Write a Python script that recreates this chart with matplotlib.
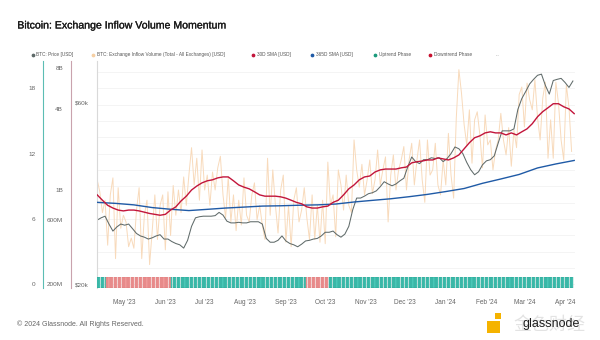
import numpy as np
import pandas as pd
import matplotlib
matplotlib.use('Agg')
import matplotlib.pyplot as plt
import matplotlib.dates as mdates
import matplotlib.patheffects as pe
from matplotlib.ticker import FixedLocator, MultipleLocator, NullLocator, FixedFormatter
from matplotlib.patches import Rectangle
from matplotlib.lines import Line2D

plt.rcParams['font.family'] = ['Liberation Sans', 'DejaVu Sans']

# ---- data ----
start = '2023-04-10'

# BTC price [k USD], every 3 days
price_k = [29.5, 29.9, 30.2, 28.8, 27.6, 28.3, 28.8, 28.6, 28.8, 28.0,
           27.2, 26.8, 26.6, 26.3, 26.5, 26.8, 27.0, 26.3, 26.3, 25.9,
           25.6, 25.4, 24.9, 26.1, 28.4, 29.9, 30.1, 30.2, 30.2, 30.2,
           30.3, 30.9, 30.4, 29.3, 29.0, 29.0, 29.1, 29.0, 29.0, 29.2,
           29.2, 29.2, 28.8, 26.4, 25.8, 25.8, 26.1, 26.8, 26.0, 25.6,
           25.4, 25.1, 25.5, 26.0, 26.1, 26.3, 26.4, 26.8, 27.4, 27.4,
           27.6, 27.0, 26.6, 27.1, 28.4, 31.4, 33.7, 33.7, 34.1, 34.6,
           34.8, 35.2, 36.1, 37.2, 36.7, 36.3, 36.7, 37.4, 38.0, 40.7,
           43.2, 42.0, 41.5, 42.5, 42.5, 43.0, 42.8, 43.0, 42.0, 42.8,
           44.1, 45.9, 45.4, 44.1, 41.8, 40.0, 38.8, 39.5, 41.2, 42.2,
           42.5, 43.5, 47.0, 50.6, 50.6, 50.6, 51.2, 57.6, 61.5, 64.2,
           67.2, 69.1, 70.8, 71.3, 66.6, 63.2, 68.6, 69.1, 69.5, 67.8,
           65.8, 68.4]

# exchange inflow volume [B USD], every 2 days
volume_b = [1.19, 0.97, 0.68, 0.84, 0.39, 0.92, 1.23, 0.31, 1.04, 0.52,
            0.65, 0.58, 0.38, 0.44, 0.37, 0.71, 1.04, 0.31, 0.65, 0.84,
            0.28, 0.50, 0.92, 0.43, 0.77, 0.92, 0.36, 0.97, 0.46, 1.08,
            0.65, 1.00, 0.68, 1.25, 0.77, 1.30, 2.06, 1.09, 1.72, 0.84,
            1.98, 1.00, 1.29, 0.77, 1.36, 1.00, 1.46, 1.78, 0.92, 0.62,
            1.25, 0.58, 0.92, 0.50, 0.84, 0.55, 1.23, 0.65, 0.58, 0.92,
            1.13, 0.60, 0.77, 0.55, 0.43, 1.72, 0.65, 1.41, 0.77, 0.48,
            1.00, 1.29, 0.41, 0.77, 0.38, 0.84, 1.04, 0.58, 0.71, 1.04,
            0.62, 0.43, 0.92, 0.43, 0.77, 0.41, 0.84, 0.40, 1.61, 0.77,
            0.92, 0.45, 1.41, 1.09, 0.71, 1.29, 0.77, 0.68, 2.35, 1.41,
            1.05, 1.55, 0.92, 1.19, 1.67, 0.94, 1.19, 1.98, 1.09, 1.41,
            1.76, 0.58, 1.29, 1.82, 1.00, 1.41, 1.67, 2.10, 1.00, 1.67,
            2.22, 1.09, 1.67, 2.35, 1.19, 0.81, 2.35, 1.29, 1.41, 2.22,
            1.09, 0.92, 1.67, 1.09, 2.63, 1.29, 0.87, 3.40, 7.80, 5.20,
            3.05, 2.16, 3.93, 1.58, 3.31, 3.80, 2.57, 1.46, 3.60, 2.16,
            2.35, 1.41, 1.98, 2.35, 3.70, 2.35, 1.82, 2.90, 1.50, 2.79,
            2.06, 5.10, 5.80, 2.93, 6.20, 4.67, 3.93, 6.57, 3.44, 2.35,
            4.80, 6.30, 1.72, 3.31, 1.72, 6.30, 4.40, 2.35, 1.67, 6.00,
            4.10, 1.93]

# 30D SMA [B USD], every 4 days
sma30_b = [0.92, 0.84, 0.77, 0.735, 0.71, 0.70, 0.71, 0.71, 0.70, 0.685,
           0.67, 0.66, 0.65, 0.66, 0.71, 0.75, 0.83, 0.90, 1.00, 1.07,
           1.13, 1.17, 1.19, 1.23, 1.25, 1.25, 1.17, 1.09, 1.05, 1.02,
           0.97, 0.92, 0.90, 0.90, 0.90, 0.89, 0.87, 0.84, 0.81, 0.79,
           0.75, 0.735, 0.735, 0.75, 0.76, 0.81, 0.84, 0.92, 1.02, 1.09,
           1.19, 1.25, 1.27, 1.36, 1.41, 1.43, 1.43, 1.43, 1.46, 1.48,
           1.59, 1.62, 1.64, 1.67, 1.67, 1.73, 1.70, 1.67, 1.73, 1.82,
           2.02, 2.24, 2.44, 2.52, 2.65, 2.70, 2.65, 2.65, 2.56, 2.65,
           2.56, 2.70, 2.84, 3.10, 3.49, 3.81, 4.07, 4.36, 4.36, 4.14,
           3.99, 3.68]

# 365D SMA [B USD], every 14 days
sma365_b = [0.81, 0.796, 0.776, 0.741, 0.720, 0.704, 0.719, 0.735, 0.747,
            0.760, 0.764, 0.771, 0.776, 0.787, 0.815, 0.838, 0.861, 0.892,
            0.928, 0.974, 1.026, 1.121, 1.207, 1.304, 1.457, 1.56, 1.656]

# trend phases
phase_edges = ['2023-04-10', '2023-04-17', '2023-06-06', '2023-09-17',
               '2023-10-04', '2024-04-08']
phase_kind = ['up', 'down', 'up', 'down', 'up']

price_dates = pd.date_range(start, periods=len(price_k), freq='3D')
vol_dates = pd.date_range(start, periods=len(volume_b), freq='2D')
sma30_dates = pd.date_range(start, periods=len(sma30_b), freq='4D')
sma365_dates = pd.date_range(start, periods=len(sma365_b), freq='14D')

# ---- figure ----
fig = plt.figure(figsize=(6, 3.4), dpi=100)
L, B, W, T = 96.7, 287.5, 478.3, 61
rect = [L / 600, 1 - B / 340, W / 600, (B - T) / 340]

ax_l = fig.add_axes(rect)
ax_vol = ax_l.twinx()
ax_p = ax_l.twinx()
ax_sma = ax_l.twinx()

may1 = mdates.date2num(pd.Timestamp('2023-05-01'))
ax_l.set_xlim(may1 - 21.37, may1 + 343.6)

grey = '#666666'
for a in (ax_l, ax_vol, ax_p, ax_sma):
    for s in a.spines.values():
        s.set_visible(False)
    a.tick_params(axis='y', length=0, pad=5.5, labelsize=4.6, labelcolor=grey)

# leftmost linear scale with the grid
ax_l.set_ylim(-0.294, 20.51)
ax_l.yaxis.set_major_locator(FixedLocator([0, 6, 12, 18]))
ax_l.yaxis.set_minor_locator(MultipleLocator(1.5))
ax_l.grid(True, which='both', axis='y', color='#f0f0f0', lw=0.5)
ax_l.spines['left'].set_visible(True)
ax_l.spines['left'].set_position(('axes', -0.1116))
ax_l.spines['left'].set_color('#5cbdb4')
ax_l.spines['left'].set_linewidth(0.8)
ax_l.tick_params(axis='y', which='minor', length=0)
ax_l.xaxis.set_major_locator(mdates.MonthLocator())
ax_l.xaxis.set_major_formatter(mdates.DateFormatter("%b '%y"))
ax_l.tick_params(axis='x', length=0, pad=8, labelsize=4.7, labelcolor=grey)

# volume scale
for a in (ax_vol, ax_sma):
    a.set_yscale('log')
    a.set_ylim(0.1894, 9.04)
    a.yaxis.set_minor_locator(NullLocator())
ax_vol.yaxis.set_ticks_position('left')
ax_vol.yaxis.set_label_position('left')
ax_vol.yaxis.set_major_locator(FixedLocator([0.2, 0.6, 1, 4, 8]))
ax_vol.yaxis.set_major_formatter(FixedFormatter(['200M', '600M', '1B', '4B', '8B']))
ax_vol.spines['left'].set_visible(True)
ax_vol.spines['left'].set_position(('axes', -0.0544))
ax_vol.spines['left'].set_color('#c9a3ad')
ax_vol.spines['left'].set_linewidth(0.8)
ax_sma.set_yticks([])

# price scale
ax_p.set_yscale('log')
ax_p.set_ylim(19.62, 77.2)
ax_p.yaxis.set_minor_locator(NullLocator())
ax_p.yaxis.set_ticks_position('left')
ax_p.yaxis.set_label_position('left')
ax_p.yaxis.set_major_locator(FixedLocator([20, 60]))
ax_p.yaxis.set_major_formatter(FixedFormatter(['$20k', '$60k']))
ax_p.spines['left'].set_visible(True)
ax_p.spines['left'].set_position(('axes', 0))
ax_p.spines['left'].set_color('#d9d9d9')
ax_p.spines['left'].set_linewidth(0.8)

# lines
ax_vol.plot(vol_dates, volume_b, color='#f8dabb', lw=0.7)
ax_p.plot(price_dates, price_k, color='#606b6a', lw=0.75)
ax_sma.plot(sma365_dates, sma365_b, color='#1f5aa6', lw=1.0)
ax_sma.plot(sma30_dates, sma30_b, color='#c2153b', lw=1.0)

# phase strip
ax_ph = fig.add_axes([L / 600, 1 - B / 340, W / 600, 10.6 / 340])
ax_ph.set_xlim(ax_l.get_xlim())
ax_ph.set_ylim(0, 1)
ax_ph.axis('off')
days = pd.date_range('2023-04-10', '2024-04-07', freq='D')
idx = np.searchsorted(pd.to_datetime(phase_edges), days, side='right') - 1
face = {'up': '#52d2c2', 'down': '#f4a2a2'}
edge = {'up': '#1f9888', 'down': '#d97070'}
kinds = [phase_kind[i] for i in idx]
ax_ph.bar(days, 1, width=0.8, bottom=0,
          color=[face[k] for k in kinds], edgecolor=[edge[k] for k in kinds],
          linewidth=0.25)

# title and legend
fig.text(17.3 / 600, 1 - 28.5 / 340, 'Bitcoin: Exchange Inflow Volume Momentum',
         fontsize=7.6, color='#1a1a1a', va='baseline', ha='left',
         path_effects=[pe.withStroke(linewidth=0.2, foreground='#1a1a1a')])

legend_items = [
    ('BTC: Price [USD]', '#5e6a69', 32.5, 36.5),
    ('BTC: Exchange Inflow Volume (Total - All Exchanges) [USD]', '#f6cfa3', 92.5, 97),
    ('30D SMA [USD]', '#c2153b', 252.5, 257),
    ('365D SMA [USD]', '#1f5aa6', 311.5, 316),
    ('Uptrend Phase', '#1a9a7c', 374.5, 379),
    ('Downtrend Phase', '#c8102e', 429.5, 434),
]
ly = 1 - 54.5 / 340
for label, col, dx, tx in legend_items:
    fig.add_artist(Line2D([dx / 600], [ly], marker='o', ms=1.7, color=col,
                          transform=fig.transFigure))
    fig.text(tx / 600, ly, label, fontsize=3.4, color='#555555', va='center', ha='left')
fig.text(496 / 600, ly, '...', fontsize=3.4, color='#999999', va='center', ha='left')

# footer
fig.text(17.3 / 600, 1 - 324 / 340, '\u00a9 2024 Glassnode. All Rights Reserved.',
         fontsize=5.0, color='#666666', va='center', ha='left')
fig.add_artist(Rectangle((487 / 600, 1 - 333 / 340), 13 / 600, 12 / 340,
                         transform=fig.transFigure, color='#f5b300', lw=0))
fig.add_artist(Rectangle((495 / 600, 1 - 319 / 340), 6 / 600, 6 / 340,
                         transform=fig.transFigure, color='#f5b300', lw=0))
fig.text(549 / 600, 1 - 325 / 340, '金色财经', fontsize=13, color='#e3e3e3',
         va='center', ha='center', family=['Noto Sans CJK SC', 'DejaVu Sans'])
fig.text(551 / 600, 1 - 324 / 340, 'glassnode', fontsize=9, color='#1e1e1e',
         va='center', ha='center')

fig.savefig('out.png', dpi=100)
